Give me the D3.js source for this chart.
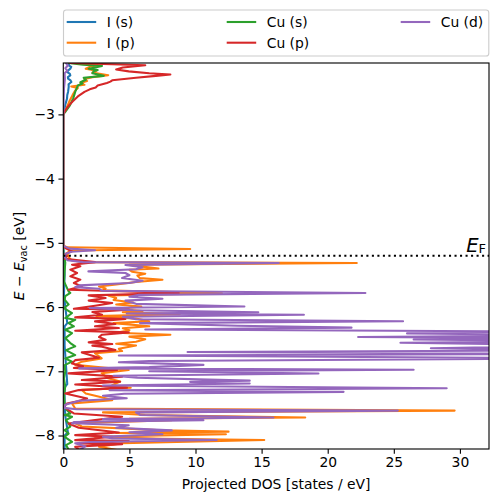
<!DOCTYPE html>
<html><head><meta charset="utf-8">
<script src="https://cdn.jsdelivr.net/npm/d3@7"></script>
<style>body{margin:0;background:#fff} svg{display:block}</style>
</head><body>
<svg id="c" width="498" height="502"></svg>
<script>
// ---------- data ----------
const seriesNames = ["I (s)", "I (p)", "Cu (s)", "Cu (p)", "Cu (d)"];
const xTicks = [0, 5, 10, 15, 20, 25, 30];
const yTicks = [-8, -7, -6, -5, -4, -3];
const fermiLevel = -5.2;
const xMax = 32.2;
const yRange = [-8.21, -2.20];

// each point: [energy (eV), projected DOS]
const iS = [[-2.15,0.4],[-2.20,0.45],[-2.236,0.41],[-2.26,0.6],[-2.288,0.53],[-2.32,0.35],[-2.34,0.28],[-2.37,0.5],[-2.392,0.53],[-2.42,0.35],[-2.444,0.36],[-2.47,0.55],[-2.496,0.61],[-2.53,0.4],[-2.573,0.41],[-2.62,0.38],[-2.651,0.36],[-2.70,0.3],[-2.755,0.28],[-2.85,0.15],[-2.911,0.1],[-2.989,0.02],[-3.02,0],
[-5.05,0],[-5.2,0.05],[-5.5,0.1],[-5.8,0.05],[-6.0,0.15],[-6.25,0.3],[-6.3,0.1],[-6.6,0.1],[-6.9,0.2],[-7.2,0.3],[-7.25,0.1],[-7.5,0.1],[-7.7,0.15],[-7.95,0.35],[-8.0,0.1],[-8.25,0.1]];

const iP = [[-2.15,0.8],[-2.20,1.5],[-2.23,2.6],[-2.26,2.0],[-2.29,1.7],[-2.32,2.5],[-2.35,2.2],[-2.39,3.4],[-2.42,2.2],[-2.45,1.6],[-2.48,1.8],[-2.51,1.3],[-2.54,1.6],[-2.565,0.6],[-2.59,1.1],[-2.63,0.9],[-2.7,0.7],[-2.8,0.45],[-2.9,0.25],[-2.98,0.05],[-3.02,0],
[-5.04,0],[-5.07,0.3],[-5.097,9.6],[-5.12,0.5],[-5.16,0.3],[-5.22,0.4],[-5.27,0.6],[-5.30,1.5],[-5.315,22.2],[-5.34,5.0],[-5.37,6.0],[-5.40,7.2],[-5.42,5.0],[-5.45,5.2],[-5.48,6.2],[-5.51,5.6],[-5.55,5.8],[-5.575,7.5],[-5.61,5.5],[-5.65,4.0],[-5.68,2.7],[-5.71,3.2],[-5.74,3.0],[-5.785,12],[-5.82,3.4],[-5.86,4.0],[-5.89,3.8],[-5.93,5.3],[-5.96,4.0],[-5.99,5.9],[-6.03,4.2],[-6.06,6.0],[-6.08,4.5],[-6.11,8.8],[-6.14,2.5],[-6.18,5.5],[-6.22,6.5],[-6.25,3.8],[-6.30,6.5],[-6.33,4.5],[-6.36,5.0],[-6.40,4.0],[-6.43,8.1],[-6.46,5.0],[-6.50,6.2],[-6.54,5.5],[-6.57,4.0],[-6.60,5.5],[-6.65,4.2],[-6.685,4.45],[-6.72,2.4],[-6.80,2.9],[-6.85,1.4],[-6.90,0.9],[-6.98,4.95],[-7.03,2.9],[-7.11,3.4],[-7.16,4.3],[-7.215,3.7],[-7.256,5.1],[-7.29,1.4],[-7.345,1.7],[-7.42,3.2],[-7.45,3.7],[-7.50,0.66],[-7.58,0.9],[-7.612,29.6],[-7.64,3.0],[-7.68,6.2],[-7.72,18.3],[-7.74,5.0],[-7.76,8.2],[-7.81,0.9],[-7.86,1.4],[-7.92,7.5],[-7.94,12.5],[-7.96,4.0],[-7.98,12.3],[-8.02,2.4],[-8.05,7.5],[-8.07,15.2],[-8.12,4.45],[-8.175,2.7],[-8.25,4.7]];

const cuS = [[-2.15,0.2],[-2.20,0.4],[-2.225,1.5],[-2.246,2.93],[-2.27,2.4],[-2.288,1.92],[-2.31,2.6],[-2.33,2.3],[-2.36,2.2],[-2.40,3.06],[-2.43,1.54],[-2.46,1.7],[-2.50,1.3],[-2.52,1.45],[-2.55,1.1],[-2.60,1.0],[-2.65,0.9],[-2.75,0.75],[-2.86,0.5],[-2.96,0.15],[-3.0,0],
[-5.2,0],[-5.247,0.1],[-5.31,0.15],[-5.44,0.1],[-5.60,0.05],[-5.756,0.4],[-5.78,0.53],[-5.83,0.15],[-5.885,0.1],[-5.96,0.4],[-6.015,0.05],[-6.093,0.66],[-6.171,0.15],[-6.197,0.9],[-6.249,0.4],[-6.30,0.8],[-6.353,0.15],[-6.405,0.66],[-6.483,0.15],[-6.56,0.53],[-6.612,0.9],[-6.67,0.2],[-6.748,0.9],[-6.80,0.15],[-6.85,0.66],[-6.904,0.1],[-7.0,0.15],[-7.11,0.05],[-7.24,0.15],[-7.37,0.05],[-7.50,0.1],[-7.58,0.15],[-7.656,0.53],[-7.68,0.1],[-7.708,0.66],[-7.76,0.2],[-7.81,0.4],[-7.86,0.53],[-7.916,0.1],[-7.97,0.4],[-8.02,0.1],[-8.098,0.66],[-8.15,0.2],[-8.25,0.5]];

const cuP = [[-2.15,0.3],[-2.20,0.5],[-2.236,6.2],[-2.27,4.5],[-2.30,4.0],[-2.33,4.95],[-2.36,6.5],[-2.38,8.1],[-2.40,7.0],[-2.43,5.5],[-2.47,3.7],[-2.49,3.56],[-2.51,3.3],[-2.55,2.6],[-2.58,2.45],[-2.61,2.0],[-2.65,1.6],[-2.72,1.1],[-2.80,0.7],[-2.88,0.35],[-2.95,0.12],[-3.0,0],
[-5.05,0],[-5.081,0.15],[-5.133,0.66],[-5.174,0.15],[-5.21,0.28],[-5.247,0.1],[-5.30,2.4],[-5.34,0.66],[-5.366,1.29],[-5.418,0.53],[-5.47,1.04],[-5.522,0.53],[-5.574,1.29],[-5.626,0.8],[-5.678,1.4],[-5.73,0.4],[-5.782,8.74],[-5.818,1.92],[-5.86,3.2],[-5.90,1.92],[-5.937,3.7],[-5.979,2.4],[-6.026,0.8],[-6.04,4.95],[-6.078,2.2],[-6.12,2.93],[-6.16,0.9],[-6.187,4.7],[-6.223,2.4],[-6.265,3.94],[-6.30,2.4],[-6.327,4.2],[-6.368,0.9],[-6.394,4.95],[-6.43,2.93],[-6.467,2.7],[-6.508,3.2],[-6.55,1.92],[-6.576,3.7],[-6.60,2.2],[-6.618,2.93],[-6.67,3.94],[-6.706,1.4],[-6.79,2.7],[-6.826,0.9],[-6.878,0.66],[-6.92,1.5],[-6.95,0.8],[-6.981,4.07],[-7.033,0.4],[-7.085,4.45],[-7.137,1.4],[-7.163,4.3],[-7.205,0.9],[-7.257,4.82],[-7.293,1.17],[-7.345,0.15],[-7.423,1.8],[-7.464,1.17],[-7.50,0.28],[-7.552,0.03],[-7.604,0.4],[-7.656,0.8],[-7.708,4.45],[-7.76,2.4],[-7.812,0.4],[-7.88,1.17],[-7.952,4.2],[-7.994,0.9],[-8.02,3.7],[-8.072,0.9],[-8.087,4.95],[-8.124,1.17],[-8.134,4.45],[-8.176,0.9],[-8.25,1.4]];

const cuD = [[-2.15,0.2],[-2.20,0.2],[-2.24,0.35],[-2.28,0.15],[-2.32,0.3],[-2.36,0.1],[-2.45,0.12],[-2.6,0.05],[-3.0,0],
[-5.05,0],[-5.09,0.5],[-5.115,2.4],[-5.14,0.6],[-5.17,0.2],[-5.22,0.1],[-5.27,0.3],[-5.30,1.5],[-5.315,16.3],[-5.345,4.7],[-5.38,6.0],[-5.41,5.5],[-5.444,1.9],[-5.47,4.7],[-5.505,5.0],[-5.548,4.45],[-5.59,6.0],[-5.626,5.0],[-5.662,1.2],[-5.69,0.9],[-5.714,2.7],[-5.745,2.9],[-5.782,22.85],[-5.81,5.7],[-5.84,5.0],[-5.87,7.5],[-5.90,4.7],[-5.95,5.5],[-5.99,13.7],[-6.015,2.0],[-6.05,5.3],[-6.08,14.75],[-6.10,4.8],[-6.12,18.2],[-6.15,4.5],[-6.19,5.5],[-6.22,25.7],[-6.25,5.8],[-6.29,13.2],[-6.32,21.8],[-6.35,6.2],[-6.385,42],[-6.41,26.0],[-6.44,40],[-6.465,22.3],[-6.49,40],[-6.505,26.5],[-6.53,40],[-6.556,25.5],[-6.60,40],[-6.64,27.8],[-6.675,38],[-6.70,9.4],[-6.73,40],[-6.755,4.2],[-6.80,40],[-6.84,6.5],[-6.86,4.2],[-6.90,10.6],[-6.935,6.5],[-6.955,1.2],[-6.975,26.5],[-7.0,6.5],[-7.035,19.3],[-7.07,3.8],[-7.10,5.6],[-7.145,14.1],[-7.165,9.6],[-7.19,14.1],[-7.22,3.0],[-7.265,29.0],[-7.295,3.5],[-7.32,21.2],[-7.35,4.6],[-7.38,3.0],[-7.42,4.8],[-7.46,1.2],[-7.52,0.15],[-7.57,0.05],[-7.59,1.0],[-7.612,25.3],[-7.64,5.5],[-7.68,5.8],[-7.72,15.9],[-7.745,3.0],[-7.762,10.6],[-7.79,0.8],[-7.81,0.66],[-7.84,4.95],[-7.88,4.0],[-7.92,8.2],[-7.95,5.0],[-7.98,7.5],[-8.02,3.0],[-8.045,3.7],[-8.07,11.6],[-8.10,2.0],[-8.12,0.9],[-8.17,1.67],[-8.25,1.0]];

const seriesData = [iS, iP, cuS, cuP, cuD];
const seriesColors = ["#1f77b4", "#ff7f0e", "#2ca02c", "#d62728", "#9467bd"];

// ---------- layout ----------
const FONT = "'DejaVu Sans', sans-serif";
const FS = 13.89;
const L = 63.3, R = 489, T = 63, B = 449;
const svg = d3.select("#c");
svg.append("rect").attr("width", 498).attr("height", 502).attr("fill", "#fff");

const x = d3.scaleLinear().domain([0, xMax]).range([L, R]);
const y = d3.scaleLinear().domain(yRange).range([B, T]);

svg.append("defs").append("clipPath").attr("id", "clip")
  .append("rect").attr("x", L).attr("y", T).attr("width", R - L).attr("height", B - T);

const plot = svg.append("g").attr("clip-path", "url(#clip)");
const line = d3.line().x(d => x(d[1])).y(d => y(d[0]));

seriesData.forEach((s, i) => {
  plot.append("path").datum(s)
    .attr("d", line)
    .attr("fill", "none")
    .attr("stroke", seriesColors[i])
    .attr("stroke-width", 2.08)
    .attr("stroke-linejoin", "round")
    .attr("stroke-linecap", "square");
});

// Fermi level
plot.append("line")
  .attr("x1", x(0)).attr("x2", x(xMax))
  .attr("y1", y(fermiLevel)).attr("y2", y(fermiLevel))
  .attr("stroke", "#000").attr("stroke-width", 2.08)
  .attr("stroke-dasharray", "2.08,3.43");

const ef = svg.append("text")
  .attr("x", 486).attr("y", y(fermiLevel) - 4)
  .attr("text-anchor", "end")
  .attr("font-family", FONT).attr("fill", "#000");
ef.append("tspan").attr("font-size", 19.5).attr("font-style", "italic").text("E");
ef.append("tspan").attr("font-size", 13).attr("dy", 1.5).text("F");

// axes
const xAxis = d3.axisBottom(x).tickValues(xTicks).tickSize(4.86).tickPadding(3.5).tickFormat(d3.format("d"));
const yAxis = d3.axisLeft(y).tickValues(yTicks).tickSize(4.86).tickPadding(3.5).tickFormat(d3.format("d"));

const gx = svg.append("g").attr("transform", `translate(0,${B})`).call(xAxis);
const gy = svg.append("g").attr("transform", `translate(${L},0)`).call(yAxis);
[gx, gy].forEach(g => {
  g.select(".domain").remove();
  g.selectAll(".tick line").attr("stroke", "#000").attr("stroke-width", 1.11);
  g.selectAll(".tick text").attr("font-family", FONT).attr("font-size", FS).attr("fill", "#000");
});

// spines
svg.append("rect").attr("x", L).attr("y", T).attr("width", R - L).attr("height", B - T)
  .attr("fill", "none").attr("stroke", "#000").attr("stroke-width", 1.11);

// axis labels
svg.append("text").attr("x", (L + R) / 2).attr("y", 489)
  .attr("text-anchor", "middle").attr("font-family", FONT).attr("font-size", FS)
  .text("Projected DOS [states / eV]");

const yl = svg.append("text")
  .attr("transform", `translate(24,${(T + B) / 2}) rotate(-90)`)
  .attr("text-anchor", "middle").attr("font-family", FONT).attr("font-size", FS);
yl.append("tspan").attr("font-style", "italic").text("E");
yl.append("tspan").text(" \u2212 ");
yl.append("tspan").attr("font-style", "italic").text("E");
yl.append("tspan").attr("font-size", 9.7).attr("dy", 3).text("vac");
yl.append("tspan").attr("dy", -3).text(" [eV]");

// legend
const lg = svg.append("g");
lg.append("rect").attr("x", 63.5).attr("y", 10).attr("width", 425.3).attr("height", 46)
  .attr("rx", 2.8).attr("fill", "#fff").attr("fill-opacity", 0.8)
  .attr("stroke", "#cccccc").attr("stroke-width", 1.11);
const legPos = [[66.7, 22], [66.7, 42.7], [226.7, 22], [226.7, 42.7], [400.7, 22]];
seriesNames.forEach((n, i) => {
  const [lx, ly] = legPos[i];
  lg.append("line").attr("x1", lx).attr("x2", lx + 29.5).attr("y1", ly).attr("y2", ly)
    .attr("stroke", seriesColors[i]).attr("stroke-width", 2.08);
  lg.append("text").attr("x", lx + 40).attr("y", ly + 5)
    .attr("font-family", FONT).attr("font-size", FS).attr("fill", "#000").text(n);
});
</script>
</body></html>
